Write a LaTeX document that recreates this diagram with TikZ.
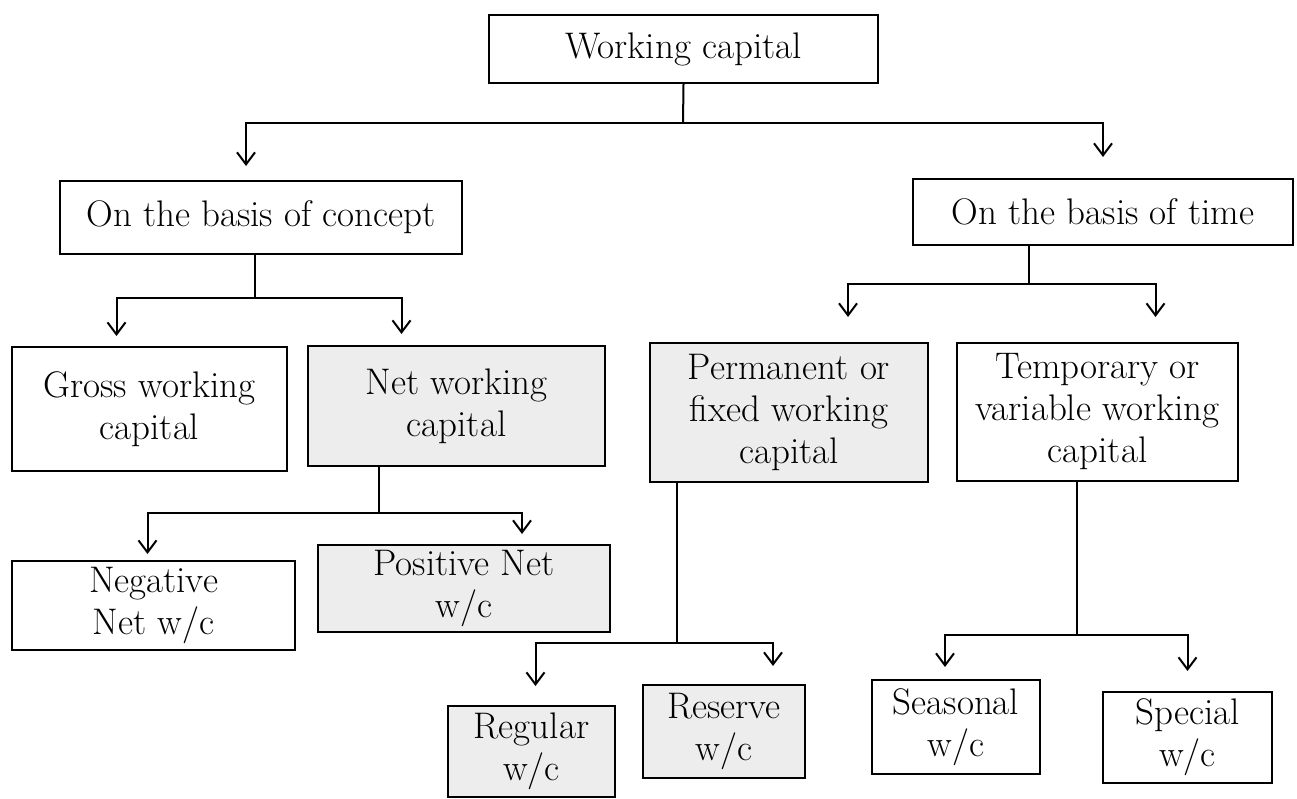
\documentclass[tikz,border=0pt]{standalone}
\usetikzlibrary{arrows.meta}
\begin{document}
\begin{tikzpicture}[x=1pt,y=-1pt,
  box/.style={draw, line width=2pt, align=center, inner sep=0pt, fill=white,
    font=\fontsize{37}{42}\selectfont},
  shaded/.style={fill=gray!14},
  conn/.style={line width=2pt},
  arr/.style={conn, -{Straight Barb[length=12pt,width=18pt,line width=2pt]}}]
\useasboundingbox (0,0) rectangle (1297,798);

% level 0
\node[box, minimum width=389pt, minimum height=68pt] (wc) at (683.5,49) {Working capital};
% level 1
\node[box, minimum width=402pt, minimum height=73pt] (concept) at (261,217.5) {On the basis of concept};
\node[box, minimum width=380pt, minimum height=66pt] (time) at (1103,212) {On the basis of time};
% level 2
\node[box, minimum width=275pt, minimum height=124pt] (gross) at (149.5,409) {Gross working\\capital};
\node[box, shaded, minimum width=297pt, minimum height=120pt] (net) at (456.5,406) {Net working\\capital};
\node[box, shaded, minimum width=278pt, minimum height=139pt] (perm) at (789,412.5) {Permanent or\\fixed working\\capital};
\node[box, minimum width=281pt, minimum height=138pt] (temp) at (1097.5,412) {Temporary or\\variable working\\capital};
% level 3
\node[box, minimum width=283pt, minimum height=89pt] (neg) at (153.5,605.5) {Negative\\Net w/c};
\node[box, shaded, minimum width=292pt, minimum height=87pt] (pos) at (464,588.5) {Positive Net\\w/c};
% level 4
\node[box, shaded, minimum width=167pt, minimum height=91pt] (regular) at (531.5,751.5) {Regular\\w/c};
\node[box, shaded, minimum width=162pt, minimum height=93pt] (reserve) at (724,731.5) {Reserve\\w/c};
\node[box, minimum width=168pt, minimum height=94pt] (seasonal) at (956,727) {Seasonal\\w/c};
\node[box, minimum width=169pt, minimum height=91pt] (special) at (1187.5,737.5) {Special\\w/c};

% connectors
\coordinate (j1) at (683,123);
\draw[conn] (wc.south) -- (j1);
\draw[arr, shorten >=14pt] (j1) -| ([xshift=-15pt]concept.north);
\draw[arr, shorten >=21pt] (j1) -| (time.north);

\coordinate (j2) at (255,298);
\draw[conn] ([xshift=-6pt]concept.south) -- (j2);
\draw[arr, shorten >=10pt] (j2) -| ([xshift=-33pt]gross.north);
\draw[arr, shorten >=11pt] (j2) -| ([xshift=-55pt]net.north);

\coordinate (j3) at (1029,284);
\draw[conn] ([xshift=-74pt]time.south) -- (j3);
\draw[arr, shorten >=25pt] (j3) -| ([xshift=59pt]perm.north);
\draw[arr, shorten >=25pt] (j3) -| ([xshift=58pt]temp.north);

\coordinate (j4) at (378.5,513);
\draw[conn] ([xshift=-78pt]net.south) -- (j4);
\draw[arr, shorten >=6pt] (j4) -| ([xshift=-6pt]neg.north);
\draw[arr, shorten >=10pt] (j4) -| ([xshift=58pt]pos.north);

\coordinate (j5) at (677,643);
\draw[conn] ([xshift=-112pt]perm.south) -- (j5);
\draw[arr, shorten >=19pt] (j5) -| ([xshift=4pt]regular.north);
\draw[arr, shorten >=18pt] (j5) -| ([xshift=49pt]reserve.north);

\coordinate (j6) at (1076.5,635);
\draw[conn] ([xshift=-21pt]temp.south) -- (j6);
\draw[arr, shorten >=12pt] (j6) -| ([xshift=-11pt]seasonal.north);
\draw[arr, shorten >=20pt] (j6) -| (special.north);
\end{tikzpicture}
\end{document}
